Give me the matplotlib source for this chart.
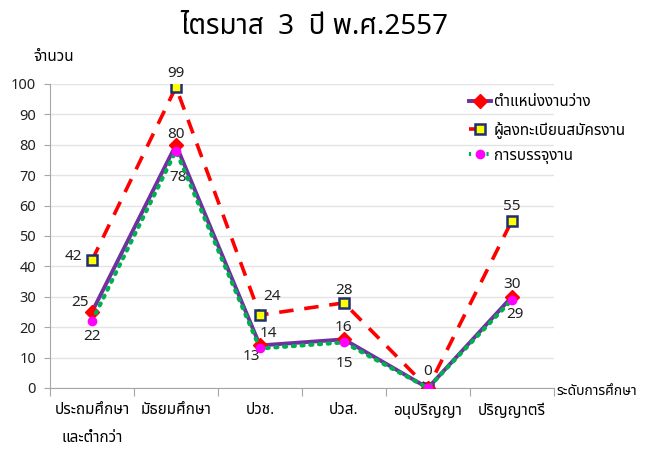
import matplotlib
matplotlib.use('Agg')
import matplotlib.pyplot as plt
from matplotlib.lines import Line2D

plt.rcParams['font.family'] = ['Noto Sans Thai', 'DejaVu Sans']

# data
categories = ['ประถมศึกษา\nและต่ำกว่า', 'มัธยมศึกษา', 'ปวช.', 'ปวส.', 'อนุปริญญา', 'ปริญญาตรี']
vacancies = [25, 80, 14, 16, 0, 30]      # ตำแหน่งงานว่าง
applicants = [42, 99, 24, 28, 0, 55]     # ผู้ลงทะเบียนสมัครงาน
placements = [22, 78, 13, 15, 0, 29]     # การบรรจุงาน
names = ['ตำแหน่งงานว่าง', 'ผู้ลงทะเบียนสมัครงาน', 'การบรรจุงาน']

# label offsets in pixels (dx, dy), None = no label
off_vac = [(-12, 9), (0, 10), (8, 12), (0, 12), (0, 16), (0, 12)]
off_app = [(-19, 4), (0, 14), (12, 19), (0, 12), None, (0, 14)]
off_pla = [(0, -15), (2, -27), (-9, -8), (0, -21), None, (3, -15)]

x = list(range(len(categories)))

fig = plt.figure(figsize=(6.46, 4.53), dpi=100)
ax = fig.add_axes([0.0774, 0.1435, 0.78, 0.6711])

ax.plot(x, applicants, color='#ff0000', lw=2.6, ls=(0, (4, 3)), marker='s', ms=7,
        mfc='#ffff00', mec='#1f2f6f', mew=1.8, zorder=3)
ax.plot(x, vacancies, color='#7030a0', lw=2.8, marker='D', ms=7,
        mfc='#ff0000', mec='#ff0000', zorder=4)
ax.plot(x, placements, color='#00b050', lw=3, ls=(0, (0.5, 1.6)), dash_capstyle='round',
        marker='o', ms=6, mfc='#ff00ff', mec='#ff00ff', zorder=5)

# data labels
for vals, offs in [(vacancies, off_vac), (applicants, off_app), (placements, off_pla)]:
    for i, v in enumerate(vals):
        if offs[i] is None:
            continue
        ax.annotate(str(v), (x[i], v), xytext=offs[i], textcoords='offset pixels',
                    ha='center', va='center', fontsize=11, color='#222222')

ax.set_xlim(-0.5, len(categories) - 0.5)
ax.set_ylim(0, 100)
ax.set_yticks(range(0, 101, 10))
ax.set_xticks([i - 0.5 for i in range(len(categories) + 1)])
ax.set_xticklabels([])
ax.set_xticks(x, minor=True)
ax.set_xticklabels(categories, minor=True, fontsize=11, linespacing=2.2, va='top')
ax.tick_params(axis='x', which='minor', length=0, pad=11)
ax.tick_params(axis='x', which='major', length=6, color='#a6a6a6', direction='out')
ax.tick_params(axis='y', length=4, color='#a6a6a6', labelsize=10.5, labelcolor='#222222', pad=6)

ax.grid(axis='y', color='#e3e3e3', lw=1)
ax.set_axisbelow(True)
for s in ['top', 'right']:
    ax.spines[s].set_visible(False)
for s in ['left', 'bottom']:
    ax.spines[s].set_color('#a6a6a6')

fig.text(0.487, 0.94, 'ไตรมาส  3  ปี พ.ศ.2557', ha='center', va='center',
         fontsize=20, fontweight='bold')
fig.text(0.052, 0.873, 'จำนวน', ha='left', va='center', fontsize=11)
fig.text(0.862, 0.135, 'ระดับการศึกษา', ha='left', va='center', fontsize=10)

handles = [
    Line2D([], [], color='#7030a0', lw=2.8, marker='D', ms=7, mfc='#ff0000', mec='#ff0000'),
    Line2D([], [], color='#ff0000', lw=2.6, ls=(0, (4, 3)), marker='s', ms=7,
           mfc='#ffff00', mec='#1f2f6f', mew=1.8),
    Line2D([], [], color='#00b050', lw=3, ls=(0, (0.5, 1.6)), marker='o', ms=6,
           mfc='#ff00ff', mec='#ff00ff'),
]
fig.legend(handles, names, loc='upper left', bbox_to_anchor=(0.705, 0.82), frameon=False,
           fontsize=11, handlelength=1.4, handletextpad=0.2, labelspacing=0.7)

fig.savefig('out.png', dpi=100)
